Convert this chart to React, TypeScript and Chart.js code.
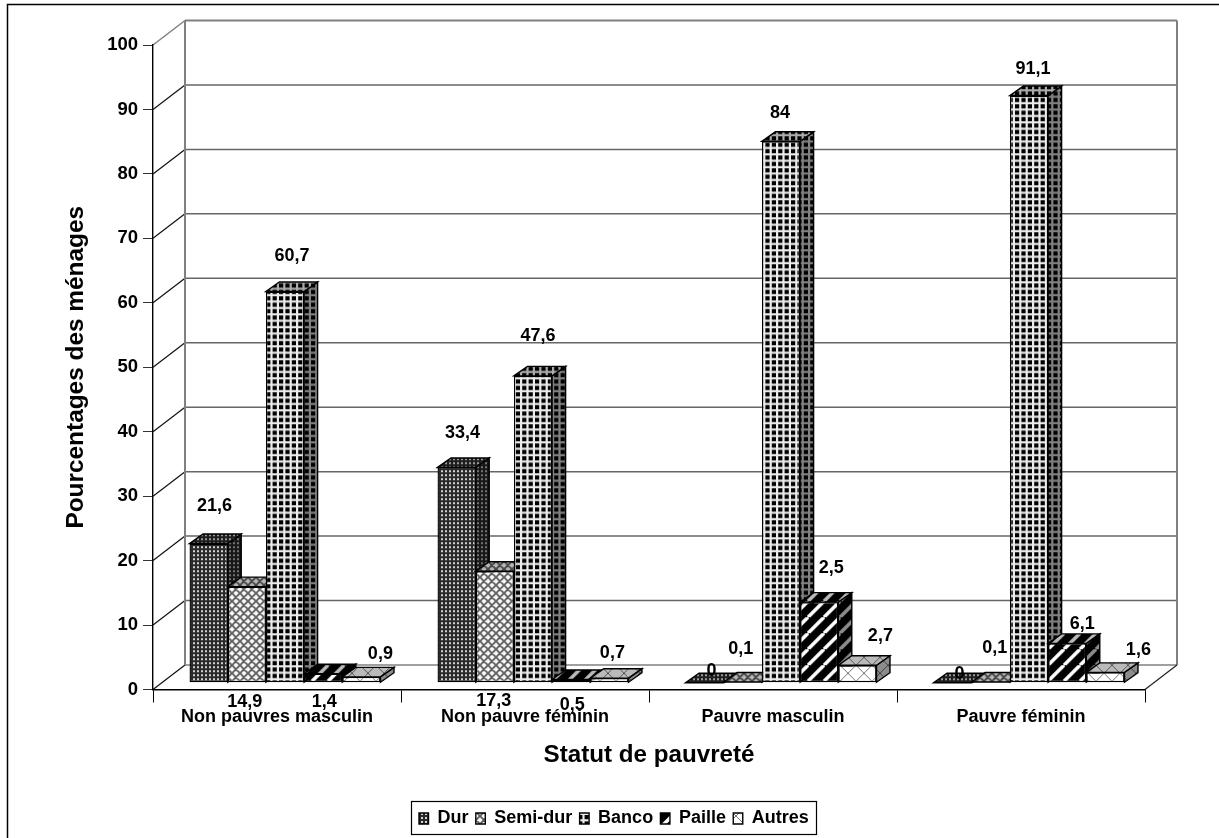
import React, { useEffect, useRef } from "react";
import { Chart, registerables } from "chart.js";

Chart.register(...registerables);

const categories = ["Non pauvres masculin", "Non pauvre féminin", "Pauvre masculin", "Pauvre féminin"];
const seriesNames = ["Dur", "Semi-dur", "Banco", "Paille", "Autres"];
const dur = [21.6, 33.4, 0, 0];
const semiDur = [14.9, 17.3, 0.1, 0.1];
const banco = [60.7, 47.6, 84, 91.1];
const paille = [1.4, 0.5, 12.5, 6.1];
const autres = [0.9, 0.7, 2.7, 1.6];
const seriesValues = [dur, semiDur, banco, paille, autres];
const durLabels = ["21,6", "33,4", "0", "0"];
const semiDurLabels = ["14,9", "17,3", "0,1", "0,1"];
const bancoLabels = ["60,7", "47,6", "84", "91,1"];
const pailleLabels = ["1,4", "0,5", "2,5", "6,1"];
const autresLabels = ["0,9", "0,7", "2,7", "1,6"];
const seriesLabels = [durLabels, semiDurLabels, bancoLabels, pailleLabels, autresLabels];

// label offset from the bar's top centre, per series then category
const labelOffsets = [
  [[14, -45], [14, -42], [15, -19], [15, -16]],
  [[6, 108], [7, 123], [6, -40], [12, -41]],
  [[15, -43], [13, -47], [7, -36], [12, -34]],
  [[9, 21], [9, 18], [20, -41], [23, -27]],
  [[27, -30], [11, -32], [31, -37], [41, -30]],
];

const FONT = "'Liberation Sans', Arial, sans-serif";
const WALL_DX = 32;
const WALL_DY = -24.5;
const BAR_DX = 8;
const BAR_DY = -6.8;
const DEPTH_DX = 13.5;
const DEPTH_DY = -9.5;

function tile(w: number, h: number, draw: (c: CanvasRenderingContext2D) => void): CanvasPattern {
  const cv = document.createElement("canvas");
  cv.width = w;
  cv.height = h;
  const c = cv.getContext("2d")!;
  draw(c);
  return c.createPattern(cv, "repeat")!;
}

function makePatterns(): CanvasPattern[] {
  const durP = tile(4, 4, (c) => {
    c.fillStyle = "#2a2a2a";
    c.fillRect(0, 0, 4, 4);
    c.fillStyle = "#d4d4d4";
    c.fillRect(1, 1, 2, 2);
  });
  const semiP = tile(8, 8, (c) => {
    c.fillStyle = "#fafafa";
    c.fillRect(0, 0, 8, 8);
    c.strokeStyle = "#5c5c5c";
    c.lineWidth = 1.8;
    c.beginPath();
    for (const o of [-8, 0, 8]) {
      c.moveTo(o, 0);
      c.lineTo(o + 8, 8);
      c.moveTo(o, 8);
      c.lineTo(o + 8, 0);
    }
    c.stroke();
  });
  const bancoP = tile(32, 32, (c) => {
    c.fillStyle = "#000";
    c.fillRect(0, 0, 32, 32);
    c.fillStyle = "#ececec";
    for (let i = 0; i < 5; i++) {
      c.fillRect(i * 6.4, 0, 2.2, 32);
      c.fillRect(0, i * 6.4, 32, 2.2);
    }
  });
  const pailleP = tile(16, 16, (c) => {
    c.fillStyle = "#000";
    c.fillRect(0, 0, 16, 16);
    c.strokeStyle = "#fff";
    c.lineWidth = 3.6;
    c.beginPath();
    for (const o of [-16, 0, 16]) {
      c.moveTo(o, 16);
      c.lineTo(o + 16, 0);
    }
    c.stroke();
  });
  const autresP = tile(16, 16, (c) => {
    c.fillStyle = "#fff";
    c.fillRect(0, 0, 16, 16);
    c.strokeStyle = "#777";
    c.lineWidth = 1;
    c.beginPath();
    for (const o of [-16, 0, 16]) {
      c.moveTo(o, 16);
      c.lineTo(o + 16, 0);
      c.moveTo(o, 0);
      c.lineTo(o + 16, 16);
    }
    c.stroke();
  });
  return [durP, semiP, bancoP, pailleP, autresP];
}

function drawFaces(chart: any, index: number) {
  const { ctx } = chart;
  const ds = chart.data.datasets[index];
  chart.getDatasetMeta(index).data.forEach((el: any) => {
    const l = el.x - el.width / 2;
    const r = el.x + el.width / 2;
    const top = el.y;
    const base = el.base;
    const face = (pts: number[][], shade: string) => {
      ctx.beginPath();
      pts.forEach((p, i) => (i ? ctx.lineTo(p[0], p[1]) : ctx.moveTo(p[0], p[1])));
      ctx.closePath();
      ctx.fillStyle = ds.backgroundColor;
      ctx.fill();
      ctx.fillStyle = shade;
      ctx.fill();
      ctx.strokeStyle = "#000";
      ctx.lineWidth = 1.4;
      ctx.stroke();
    };
    face(
      [[r, top], [r + DEPTH_DX, top + DEPTH_DY], [r + DEPTH_DX, base + DEPTH_DY], [r, base]],
      "rgba(0,0,0,0.45)"
    );
    face(
      [[l, top], [l + DEPTH_DX, top + DEPTH_DY], [r + DEPTH_DX, top + DEPTH_DY], [r, top]],
      "rgba(0,0,0,0.27)"
    );
  });
}

const frame3d = {
  id: "frame3d",
  beforeDraw(chart: any) {
    const { ctx, chartArea: a, scales, width, height } = chart;
    const y = scales.y;
    ctx.save();
    ctx.fillStyle = "#fff";
    ctx.fillRect(0, 0, width, height);
    ctx.strokeStyle = "#000";
    ctx.lineWidth = 1.5;
    ctx.strokeRect(7.5, 4.5, width + 20, height + 20);

    const bx0 = a.left + WALL_DX;
    const bx1 = a.right + WALL_DX;
    y.ticks.forEach((t: any) => {
      const py = y.getPixelForValue(t.value);
      ctx.beginPath();
      ctx.strokeStyle = t.value === 100 ? "#808080" : t.value === 0 ? "#808080" : "#666";
      ctx.lineWidth = t.value === 100 ? 2 : 1.5;
      ctx.moveTo(bx0, py + WALL_DY);
      ctx.lineTo(bx1, py + WALL_DY);
      ctx.stroke();
      ctx.beginPath();
      ctx.strokeStyle = t.value === 100 ? "#808080" : "#111";
      ctx.lineWidth = t.value === 100 ? 1.5 : 1.2;
      ctx.moveTo(a.left, py);
      ctx.lineTo(bx0, py + WALL_DY);
      ctx.stroke();
    });
    ctx.beginPath();
    ctx.strokeStyle = "#808080";
    ctx.lineWidth = 2;
    ctx.moveTo(bx0, a.top + WALL_DY);
    ctx.lineTo(bx0, a.bottom + WALL_DY);
    ctx.moveTo(bx1, a.top + WALL_DY);
    ctx.lineTo(bx1, a.bottom + WALL_DY);
    ctx.stroke();
    ctx.beginPath();
    ctx.strokeStyle = "#222";
    ctx.lineWidth = 1.2;
    ctx.moveTo(a.right, a.bottom);
    ctx.lineTo(bx1, a.bottom + WALL_DY);
    ctx.stroke();
    ctx.restore();
  },
  // series are painted left to right so that each bar covers its left neighbour's side face
  beforeDatasetsDraw(chart: any) {
    const { ctx } = chart;
    ctx.save();
    ctx.translate(BAR_DX, BAR_DY);
    chart.data.datasets.forEach((_: any, i: number) => {
      drawFaces(chart, i);
      chart.getDatasetMeta(i).controller.draw();
    });
    ctx.restore();
    return false;
  },
  afterLayout(chart: any) {
    const lg = chart.legend;
    if (lg) {
      lg.left = 411.7;
      lg.right = 1000;
      lg.top = 802.2;
      lg.bottom = 834;
    }
  },
  afterDraw(chart: any) {
    const { ctx } = chart;
    ctx.save();
    ctx.strokeStyle = "#000";
    ctx.lineWidth = 1.2;
    ctx.strokeRect(411.5, 801.5, 405, 33);
    ctx.fillStyle = "#000";
    ctx.font = `bold 18px ${FONT}`;
    ctx.textAlign = "center";
    ctx.textBaseline = "middle";
    chart.data.datasets.forEach((ds: any, s: number) => {
      chart.getDatasetMeta(s).data.forEach((el: any, g: number) => {
        const [dx, dy] = labelOffsets[s][g];
        ctx.fillText(seriesLabels[s][g], el.x + dx, el.y + dy + 0.5);
      });
    });
    ctx.restore();
  },
};

export default function App() {
  const ref = useRef<HTMLCanvasElement>(null);
  useEffect(() => {
    const patterns = makePatterns();
    const chart = new Chart(ref.current!, {
      type: "bar",
      data: {
        labels: categories,
        datasets: seriesNames.map((name, i) => ({
          label: name,
          data: seriesValues[i],
          backgroundColor: patterns[i] as any,
          borderColor: "#000",
          borderWidth: 1.4,
          borderSkipped: false,
          categoryPercentage: 0.77,
          barPercentage: 1,
          clip: false as any,
        })),
      },
      options: {
        responsive: false,
        animation: false,
        devicePixelRatio: 1,
        layout: { padding: { top: 45, right: 74, left: 0, bottom: 0 } },
        plugins: {
          tooltip: { enabled: false },
          legend: {
            position: "bottom",
            align: "start",
            labels: {
              boxWidth: 9.5,
              boxHeight: 11,
              padding: 7.3,
              color: "#000",
              font: { family: FONT, weight: "bold", size: 18 },
            },
          },
        },
        scales: {
          x: {
            afterFit: (s: any) => {
              s.height = 148.5 - (s.chart.legend ? s.chart.legend.height : 36);
            },
            grid: {
              offset: true,
              drawOnChartArea: false,
              drawTicks: true,
              tickLength: 13,
              color: "#000",
            },
            border: { color: "#000", width: 1.4 },
            ticks: {
              autoSkip: false,
              maxRotation: 0,
              minRotation: 0,
              padding: 4,
              color: "#000",
              font: { family: FONT, weight: "bold", size: 18 },
            },
            title: {
              display: true,
              text: "Statut de pauvreté",
              color: "#000",
              font: { family: FONT, weight: "bold", size: 24.2 },
              padding: { top: 0, bottom: 32.9 },
            },
          },
          y: {
            min: 0,
            max: 100,
            afterFit: (s: any) => {
              s.width = 153;
            },
            grid: { drawOnChartArea: false, drawTicks: true, tickLength: 10, color: "#333" },
            border: { color: "#000", width: 1.4 },
            ticks: {
              stepSize: 10,
              padding: 5,
              color: "#000",
              font: { family: FONT, weight: "bold", size: 18.5 },
            },
            title: {
              display: true,
              text: "Pourcentages des ménages",
              color: "#000",
              font: { family: FONT, weight: "bold", size: 24.4 },
              padding: { top: 61.4, bottom: 0 },
            },
          },
        },
      },
      plugins: [frame3d as any],
    });
    return () => chart.destroy();
  }, []);
  return (
    <canvas
      ref={ref}
      width={1219}
      height={838}
      style={{ position: "fixed", left: 0, top: 0, display: "block" }}
    />
  );
}
